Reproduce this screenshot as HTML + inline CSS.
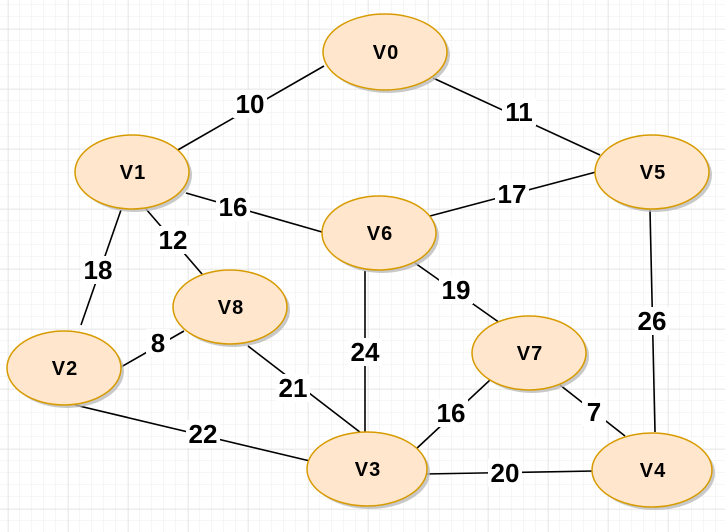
<!DOCTYPE html>
<html><head><style>
html,body{margin:0;padding:0;background:#fff}
svg{display:block}
.n{font-family:"Liberation Sans",Arial,sans-serif;font-weight:bold;font-size:20px;fill:#000;letter-spacing:1px}
.l{font-family:"Liberation Sans",Arial,sans-serif;font-weight:bold;font-size:26px;fill:#000}
</style></head><body>
<svg width="725" height="532" xmlns="http://www.w3.org/2000/svg">
<defs>
<pattern id="mi" width="12" height="12" patternUnits="userSpaceOnUse" x="8" y="5">
<path d="M12 0V12M0 12H12" fill="none" stroke="#eeeeee" stroke-width="1"/></pattern>
<pattern id="ma" width="60" height="60" patternUnits="userSpaceOnUse" x="8.5" y="29.5">
<path d="M0 0V60M0 0H60" fill="none" stroke="#dddddd" stroke-width="1"/></pattern>
</defs>
<rect width="725" height="532" fill="url(#mi)"/>
<rect width="725" height="532" fill="url(#ma)"/>
<g stroke="#000" stroke-width="1.6">
<line x1="324" y1="66" x2="176" y2="151"/>
<line x1="433" y1="78" x2="600" y2="155"/>
<line x1="186" y1="193" x2="322" y2="232"/>
<line x1="596" y1="172" x2="430" y2="216"/>
<line x1="146" y1="209" x2="202" y2="274"/>
<line x1="121" y1="210" x2="81" y2="325"/>
<line x1="121" y1="367" x2="184" y2="331"/>
<line x1="248" y1="346" x2="365" y2="436"/>
<line x1="365" y1="271" x2="365" y2="436"/>
<line x1="415" y1="263" x2="500" y2="323"/>
<line x1="650" y1="210" x2="655" y2="432"/>
<line x1="75" y1="405" x2="310" y2="461"/>
<line x1="490" y1="380" x2="415" y2="450"/>
<line x1="560" y1="385" x2="625" y2="436"/>
<line x1="425" y1="474" x2="594" y2="471"/>
</g>
<g>
<g fill="#fff">
<rect x="233" y="90" width="34" height="28"/><rect x="502" y="98" width="34" height="28"/>
<rect x="216" y="193" width="34" height="28"/><rect x="495" y="180" width="34" height="28"/>
<rect x="156" y="226" width="34" height="28"/><rect x="81" y="256" width="34" height="28"/>
<rect x="146" y="329" width="24" height="28"/><rect x="276" y="374" width="34" height="28"/>
<rect x="348" y="338" width="34" height="28"/><rect x="439" y="276" width="34" height="28"/>
<rect x="635" y="307" width="34" height="28"/><rect x="186" y="420" width="34" height="28"/>
<rect x="434" y="399" width="34" height="28"/><rect x="582" y="398" width="24" height="28"/>
<rect x="488" y="459" width="34" height="28"/>
</g>
<g class="l" text-anchor="middle">
<text x="250" y="113">10</text><text x="519" y="121">11</text>
<text x="233" y="216">16</text><text x="512" y="203">17</text>
<text x="173" y="249">12</text><text x="98" y="279">18</text>
<text x="158" y="352">8</text><text x="293" y="397">21</text>
<text x="365" y="361">24</text><text x="456" y="299">19</text>
<text x="652" y="330">26</text><text x="203" y="443">22</text>
<text x="451" y="422">16</text><text x="594" y="421">7</text>
<text x="505" y="482">20</text>
</g>
</g>
<g>
<g fill="#bbb" opacity="0.8">
<ellipse cx="388" cy="55" rx="62" ry="38"/><ellipse cx="135" cy="175" rx="57" ry="37"/>
<ellipse cx="655" cy="175" rx="57" ry="37"/><ellipse cx="382" cy="236" rx="57" ry="37"/>
<ellipse cx="233" cy="310" rx="57" ry="37"/><ellipse cx="67" cy="371" rx="57" ry="37"/>
<ellipse cx="532" cy="356" rx="57" ry="37"/><ellipse cx="370" cy="472" rx="60" ry="37"/>
<ellipse cx="655" cy="473" rx="60" ry="37"/>
</g>
<g fill="#ffe6cc" stroke="#d79b00" stroke-width="1.5">
<ellipse cx="385" cy="52" rx="62" ry="38"/><ellipse cx="132" cy="172" rx="57" ry="37"/>
<ellipse cx="652" cy="172" rx="57" ry="37"/><ellipse cx="379" cy="233" rx="57" ry="37"/>
<ellipse cx="230" cy="307" rx="57" ry="37"/><ellipse cx="64" cy="368" rx="57" ry="37"/>
<ellipse cx="529" cy="353" rx="57" ry="37"/><ellipse cx="367" cy="469" rx="60" ry="37"/>
<ellipse cx="652" cy="470" rx="60" ry="37"/>
</g>
<g class="n" text-anchor="middle">
<text x="386" y="59">V0</text><text x="133" y="179">V1</text>
<text x="653" y="179">V5</text><text x="380" y="240">V6</text>
<text x="231" y="314">V8</text><text x="65" y="375">V2</text>
<text x="530" y="360">V7</text><text x="368" y="476">V3</text>
<text x="653" y="477">V4</text>
</g>
</g>
</svg>
</body></html>
